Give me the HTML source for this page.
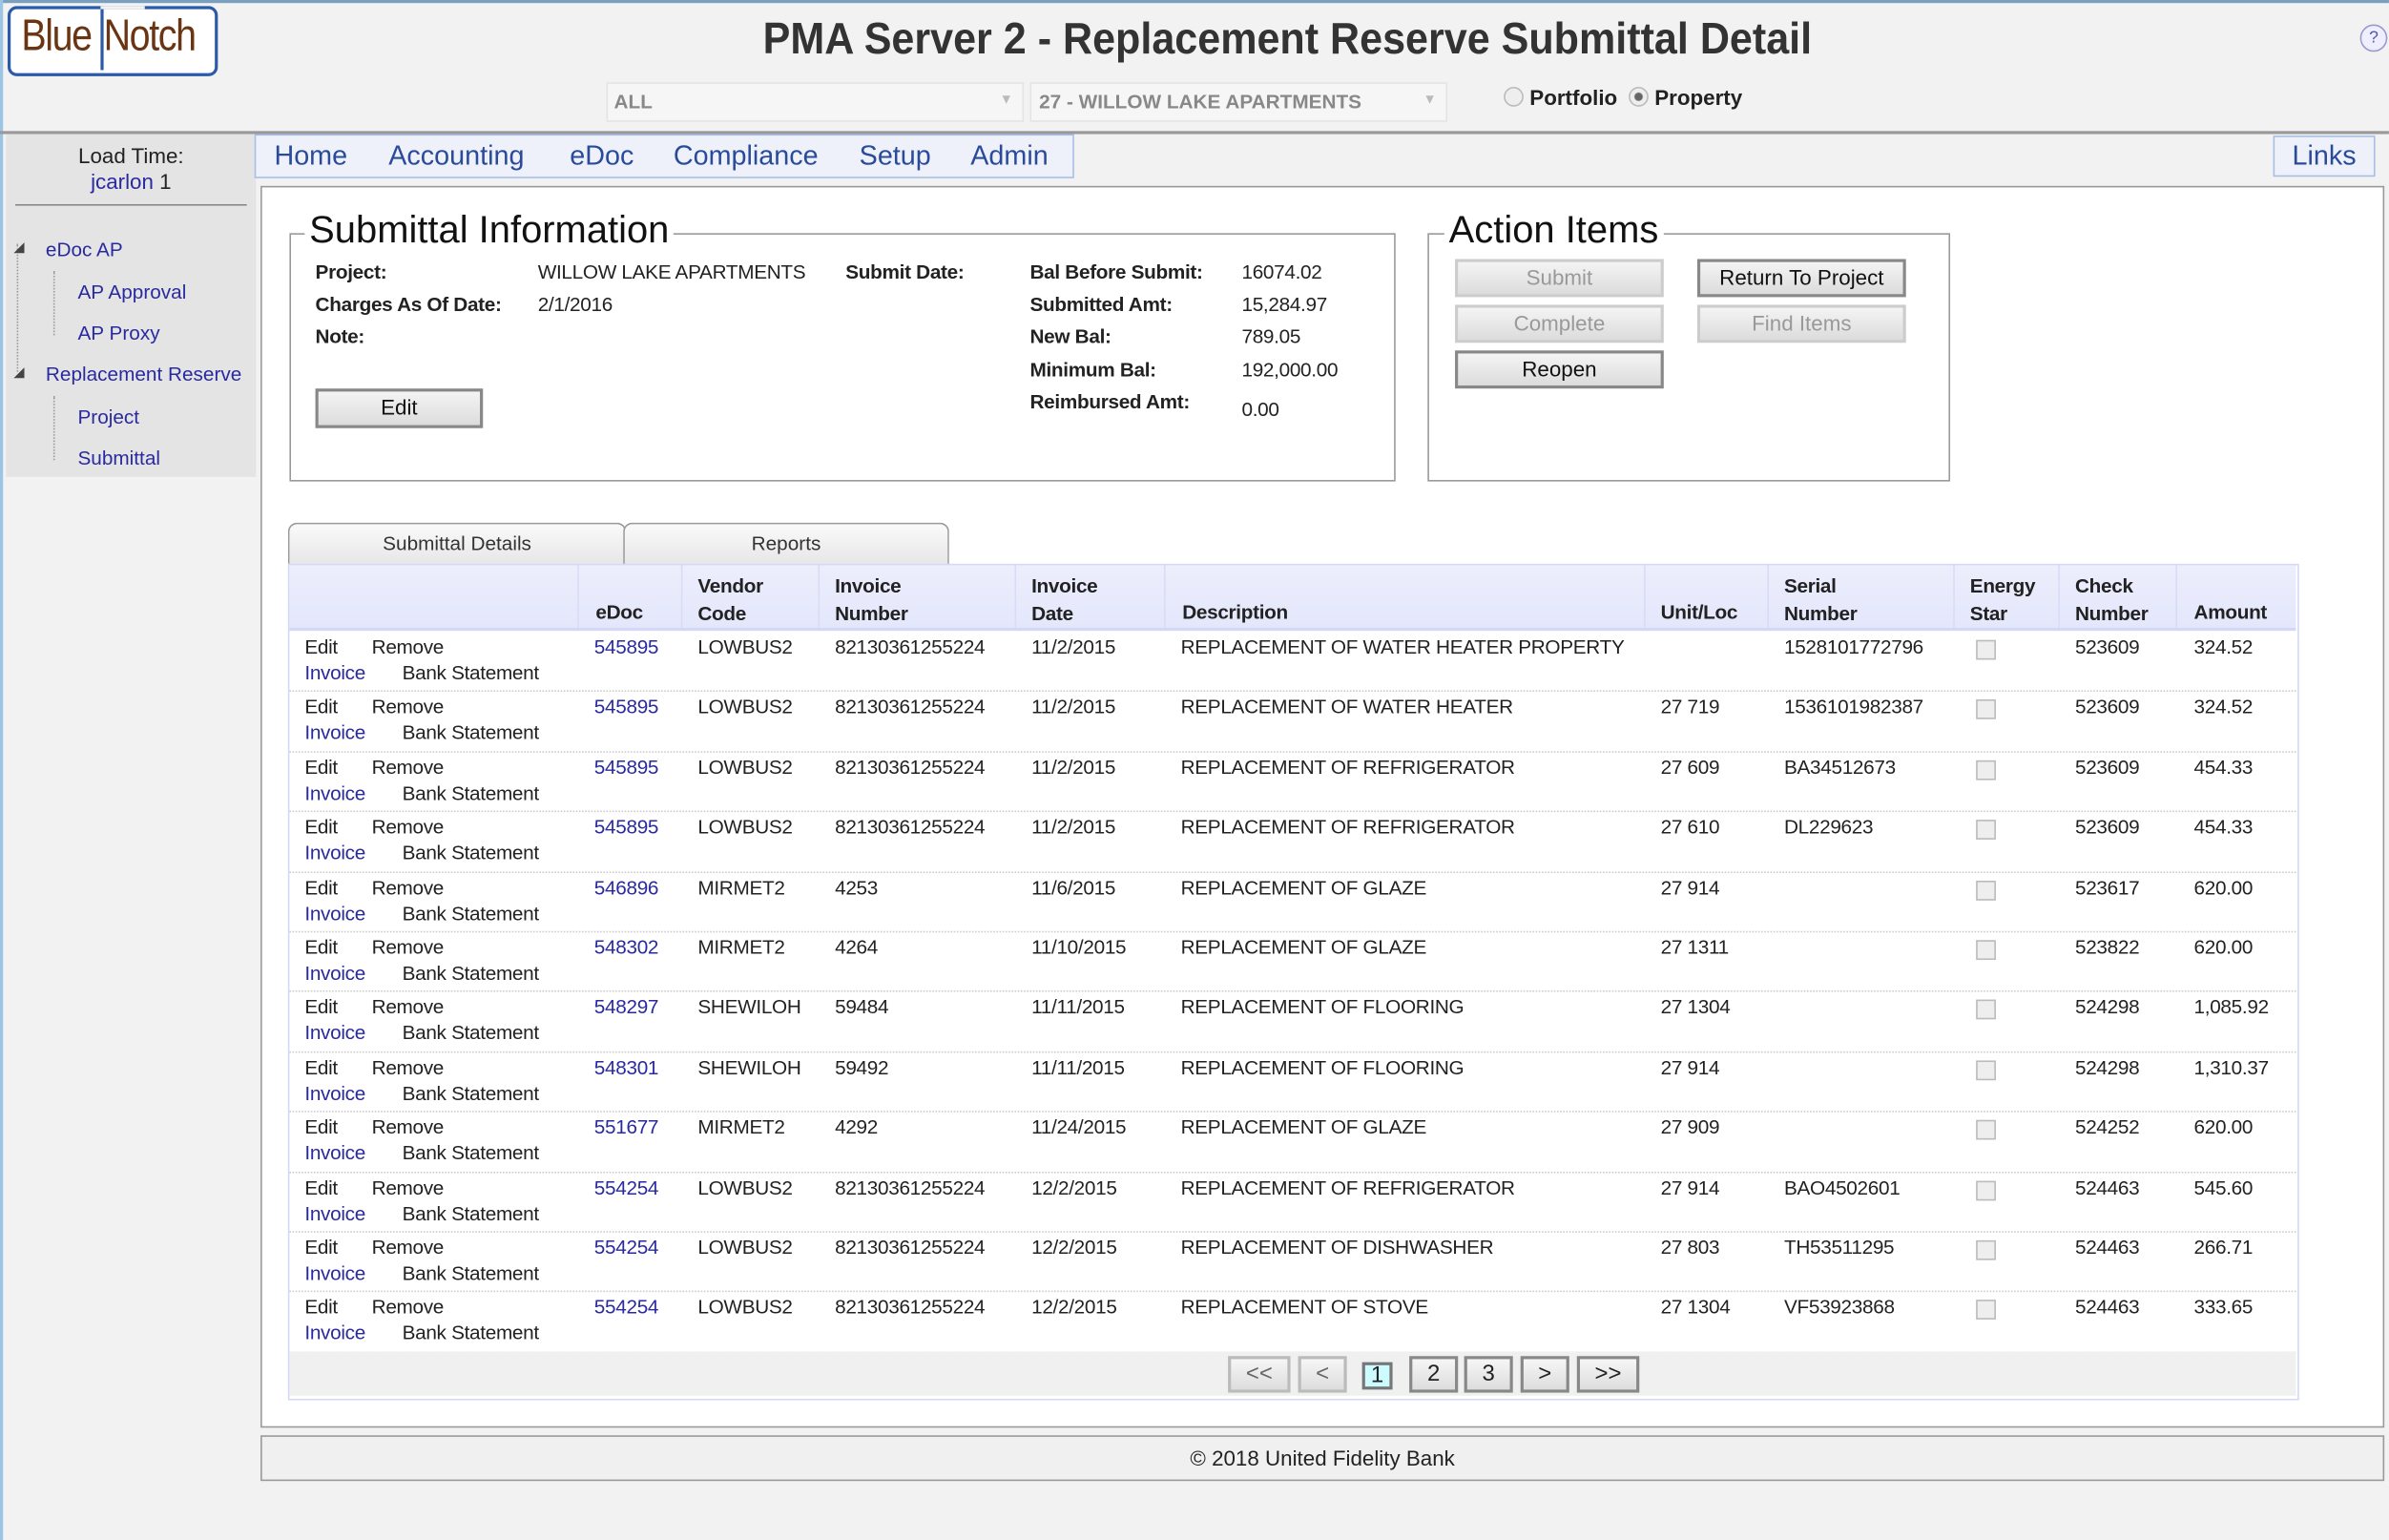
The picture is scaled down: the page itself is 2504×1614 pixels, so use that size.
<!DOCTYPE html>
<html><head><meta charset="utf-8"><style>
html,body{margin:0;padding:0;width:2504px;height:1614px;overflow:hidden;background:#fff}
#w{position:absolute;left:0;top:0;width:1568px;height:1011px;transform:scale(1.5969);transform-origin:0 0;font-family:"Liberation Sans",sans-serif;color:#222;background:#f2f2f2}
.a{position:absolute;white-space:nowrap}
.t{font-size:13px;letter-spacing:-0.2px}
.lk{color:#2a2aa0}
.btn{position:absolute;border:2px solid #888;background:linear-gradient(#f4f4f4,#dcdcdc);font-size:14px;text-align:center;box-sizing:border-box;line-height:20px;color:#111}
.dis{border-color:#ccc;color:#999}
.row{position:absolute;left:190px;width:1317px;height:39.4px;border-bottom:1px dotted #ccc}
.row span{position:absolute;font-size:13px;white-space:nowrap;letter-spacing:-0.2px}
.cb{position:absolute;width:11px;height:11px;border:1px solid #bbb;background:#eee}
.sep{position:absolute;top:371px;height:41px;width:1px;background:#d8dcf6}
.pg{position:absolute;top:890px;height:24px;border:2px solid #888;background:linear-gradient(#f6f6f6,#ddd);box-sizing:border-box;text-align:center;font-size:15px;line-height:20px}
</style></head><body><div id="w">
<div class="a" style="left:0;top:0;width:1568px;height:2px;background:#7aa0c0"></div>
<div class="a" style="left:0;top:0;width:2px;height:1011px;background:#9cc4e4"></div>
<!-- logo -->
<div class="a" style="left:5px;top:4px;width:134px;height:42px;border:2px solid #2a5aa8;border-radius:6px;background:#fff"></div>
<div class="a" style="left:14px;top:8px;font-size:29px;color:#6b3412;letter-spacing:-1px;transform:scaleX(0.85);transform-origin:0 0">Blue</div>
<div class="a" style="left:66px;top:4px;width:2px;height:42px;background:#2a5aa8"></div>
<div class="a" style="left:66px;top:4px;width:29px;height:2px;background:#f2f2f2"></div>
<div class="a" style="left:68px;top:8px;font-size:29px;color:#6b3412;letter-spacing:-1px;transform:scaleX(0.85);transform-origin:0 0">Notch</div>
<div class="a" style="left:0;top:10px;width:1690px;text-align:center;font-size:29px;font-weight:bold;color:#333;transform:scaleX(0.93);transform-origin:845px 0">PMA Server 2 - Replacement Reserve Submittal Detail</div>
<div class="a" style="left:1549px;top:16px;width:16px;height:16px;border-radius:50%;border:1px solid #99c;color:#55a;font-size:11px;text-align:center;line-height:16px;background:#eef">?</div>
<!-- selects -->
<div class="a" style="left:398px;top:54px;width:272px;height:24px;border:1px solid #e4e4e4;background:#f6f6f6"></div>
<div class="a" style="left:403px;top:59px;font-size:13px;font-weight:bold;color:#888">ALL</div>
<div class="a" style="left:656px;top:60px;font-size:9px;color:#bbb">▼</div>
<div class="a" style="left:676px;top:54px;width:272px;height:24px;border:1px solid #e4e4e4;background:#f6f6f6"></div>
<div class="a" style="left:682px;top:59px;font-size:13px;font-weight:bold;color:#888">27 - WILLOW LAKE APARTMENTS</div>
<div class="a" style="left:934px;top:60px;font-size:9px;color:#bbb">▼</div>
<div class="a" style="left:987px;top:57px;width:11px;height:11px;border-radius:50%;border:1px solid #bbb;background:#eee"></div>
<div class="a" style="left:1004px;top:56px;font-size:14px;font-weight:bold;color:#222">Portfolio</div>
<div class="a" style="left:1069px;top:57px;width:11px;height:11px;border-radius:50%;border:1px solid #bbb;background:radial-gradient(#666 30%,#eee 40%)"></div>
<div class="a" style="left:1086px;top:56px;font-size:14px;font-weight:bold;color:#222">Property</div>
<div class="a" style="left:0;top:86px;width:1568px;height:2px;background:#999"></div>
<!-- sidebar -->
<div class="a" style="left:4px;top:88px;width:164px;height:225px;background:#e4e4e4"></div>
<div class="a" style="left:4px;top:94px;width:164px;text-align:center;font-size:14px;color:#222">Load Time:</div>
<div class="a" style="left:4px;top:111px;width:164px;text-align:center;font-size:14px"><span class="lk">jcarlon</span> 1</div>
<div class="a" style="left:10px;top:134px;width:152px;height:1px;background:#888"></div>
<div class="a" style="left:11px;top:160px;width:1px;height:84px;border-left:1px dotted #999"></div>
<div class="a" style="left:35px;top:178px;width:1px;height:42px;border-left:1px dotted #999"></div>
<div class="a" style="left:35px;top:260px;width:1px;height:42px;border-left:1px dotted #999"></div>
<div class="a" style="left:9px;top:157px;font-size:9px;color:#444">◢</div>
<div class="a" style="left:9px;top:239px;font-size:9px;color:#444">◢</div>
<div class="a lk" style="left:30px;top:156px;font-size:13px">eDoc AP</div>
<div class="a lk" style="left:51px;top:184px;font-size:13px">AP Approval</div>
<div class="a lk" style="left:51px;top:211px;font-size:13px">AP Proxy</div>
<div class="a lk" style="left:30px;top:238px;font-size:13px">Replacement Reserve</div>
<div class="a lk" style="left:51px;top:266px;font-size:13px">Project</div>
<div class="a lk" style="left:51px;top:293px;font-size:13px">Submittal</div>
<!-- nav -->
<div class="a" style="left:167px;top:88px;width:536px;height:27px;background:#eef1fa;border:1px solid #a8bfe4"></div>
<div class="a" style="left:180px;top:92px;font-size:18px;color:#2a4a9a;word-spacing:0">Home</div>
<div class="a" style="left:255px;top:92px;font-size:18px;color:#2a4a9a">Accounting</div>
<div class="a" style="left:374px;top:92px;font-size:18px;color:#2a4a9a">eDoc</div>
<div class="a" style="left:442px;top:92px;font-size:18px;color:#2a4a9a">Compliance</div>
<div class="a" style="left:564px;top:92px;font-size:18px;color:#2a4a9a">Setup</div>
<div class="a" style="left:637px;top:92px;font-size:18px;color:#2a4a9a">Admin</div>
<div class="a" style="left:1492px;top:89px;width:65px;height:25px;background:#eef1fa;border:1px solid #a8bfe4;text-align:center;font-size:18px;color:#2a4a9a;line-height:25px">Links</div>
<!-- main -->
<div class="a" style="left:171px;top:122px;width:1392px;height:813px;background:#fff;border:1px solid #999"></div>
<!-- submittal info -->
<div class="a" style="left:190px;top:153px;width:724px;height:161px;border:1px solid #999"></div>
<div class="a" style="left:200px;top:137px;font-size:25px;background:#fff;padding:0 3px;color:#111">Submittal Information</div>
<div class="a t" style="left:207px;top:171px;font-weight:bold">Project:</div>
<div class="a t" style="left:207px;top:192px;font-weight:bold">Charges As Of Date:</div>
<div class="a t" style="left:207px;top:213px;font-weight:bold">Note:</div>
<div class="a t" style="left:353px;top:171px">WILLOW LAKE APARTMENTS</div>
<div class="a t" style="left:353px;top:192px">2/1/2016</div>
<div class="a t" style="left:555px;top:171px;font-weight:bold">Submit Date:</div>
<div class="a t" style="left:676px;top:171px;font-weight:bold">Bal Before Submit:</div>
<div class="a t" style="left:676px;top:192px;font-weight:bold">Submitted Amt:</div>
<div class="a t" style="left:676px;top:213px;font-weight:bold">New Bal:</div>
<div class="a t" style="left:676px;top:235px;font-weight:bold">Minimum Bal:</div>
<div class="a t" style="left:676px;top:256px;font-weight:bold">Reimbursed Amt:</div>
<div class="a t" style="left:815px;top:171px">16074.02</div>
<div class="a t" style="left:815px;top:192px">15,284.97</div>
<div class="a t" style="left:815px;top:213px">789.05</div>
<div class="a t" style="left:815px;top:235px">192,000.00</div>
<div class="a t" style="left:815px;top:261px">0.00</div>
<div class="btn" style="left:207px;top:255px;width:110px;height:26px">Edit</div>
<!-- action items -->
<div class="a" style="left:937px;top:153px;width:341px;height:161px;border:1px solid #999"></div>
<div class="a" style="left:948px;top:137px;font-size:25px;background:#fff;padding:0 3px;color:#111">Action Items</div>
<div class="btn dis" style="left:955px;top:170px;width:137px;height:25px">Submit</div>
<div class="btn dis" style="left:955px;top:200px;width:137px;height:25px">Complete</div>
<div class="btn" style="left:955px;top:230px;width:137px;height:25px">Reopen</div>
<div class="btn" style="left:1114px;top:170px;width:137px;height:25px">Return To Project</div>
<div class="btn dis" style="left:1114px;top:200px;width:137px;height:25px">Find Items</div>
<!-- tabs -->
<div class="a" style="left:189px;top:343px;width:220px;height:27px;border:1px solid #999;border-bottom:none;border-radius:6px 6px 0 0;background:linear-gradient(#fafafa,#e6e6e6);text-align:center;font-size:13px;line-height:26px;color:#333">Submittal Details</div>
<div class="a" style="left:409px;top:343px;width:212px;height:27px;border:1px solid #999;border-bottom:none;border-radius:6px 6px 0 0;background:linear-gradient(#fafafa,#e6e6e6);text-align:center;font-size:13px;line-height:26px;color:#333">Reports</div>
<!-- table -->
<div class="a" style="left:189px;top:370px;width:1318px;height:547px;border:1px solid #d4d8f6;background:#fff"></div>
<div class="a" style="left:190px;top:371px;width:1317px;height:41px;background:linear-gradient(#eceefc,#e4e7fb);border-bottom:2px solid #d4d8f6"></div>
<div class="sep" style="left:379px"></div><div class="sep" style="left:447px"></div><div class="sep" style="left:537px"></div><div class="sep" style="left:666px"></div><div class="sep" style="left:764px"></div><div class="sep" style="left:1079px"></div><div class="sep" style="left:1160px"></div><div class="sep" style="left:1282px"></div><div class="sep" style="left:1351px"></div><div class="sep" style="left:1428px"></div>
<div class="a t" style="left:391px;top:394px;font-weight:bold">eDoc</div>
<div class="a t" style="left:458px;top:376px;font-weight:bold;line-height:18px">Vendor<br>Code</div>
<div class="a t" style="left:548px;top:376px;font-weight:bold;line-height:18px">Invoice<br>Number</div>
<div class="a t" style="left:677px;top:376px;font-weight:bold;line-height:18px">Invoice<br>Date</div>
<div class="a t" style="left:776px;top:394px;font-weight:bold">Description</div>
<div class="a t" style="left:1090px;top:394px;font-weight:bold">Unit/Loc</div>
<div class="a t" style="left:1171px;top:376px;font-weight:bold;line-height:18px">Serial<br>Number</div>
<div class="a t" style="left:1293px;top:376px;font-weight:bold;line-height:18px">Energy<br>Star</div>
<div class="a t" style="left:1362px;top:376px;font-weight:bold;line-height:18px">Check<br>Number</div>
<div class="a t" style="left:1440px;top:394px;font-weight:bold">Amount</div>

<div class="row" style="top:414px"><span style="left:10px;top:3px">Edit</span><span style="left:54px;top:3px">Remove</span><span class="lk" style="left:10px;top:20px">Invoice</span><span style="left:74px;top:20px">Bank Statement</span><span class="lk" style="left:200px;top:3px">545895</span><span style="left:268px;top:3px">LOWBUS2</span><span style="left:358px;top:3px">82130361255224</span><span style="left:487px;top:3px">11/2/2015</span><span style="left:585px;top:3px">REPLACEMENT OF WATER HEATER PROPERTY</span><span style="left:981px;top:3px">1528101772796</span><div class="cb" style="left:1107px;top:6px"></div><span style="left:1172px;top:3px">523609</span><span style="left:1250px;top:3px">324.52</span></div>
<div class="row" style="top:453.4px"><span style="left:10px;top:3px">Edit</span><span style="left:54px;top:3px">Remove</span><span class="lk" style="left:10px;top:20px">Invoice</span><span style="left:74px;top:20px">Bank Statement</span><span class="lk" style="left:200px;top:3px">545895</span><span style="left:268px;top:3px">LOWBUS2</span><span style="left:358px;top:3px">82130361255224</span><span style="left:487px;top:3px">11/2/2015</span><span style="left:585px;top:3px">REPLACEMENT OF WATER HEATER</span><span style="left:900px;top:3px">27 719</span><span style="left:981px;top:3px">1536101982387</span><div class="cb" style="left:1107px;top:6px"></div><span style="left:1172px;top:3px">523609</span><span style="left:1250px;top:3px">324.52</span></div>
<div class="row" style="top:492.8px"><span style="left:10px;top:3px">Edit</span><span style="left:54px;top:3px">Remove</span><span class="lk" style="left:10px;top:20px">Invoice</span><span style="left:74px;top:20px">Bank Statement</span><span class="lk" style="left:200px;top:3px">545895</span><span style="left:268px;top:3px">LOWBUS2</span><span style="left:358px;top:3px">82130361255224</span><span style="left:487px;top:3px">11/2/2015</span><span style="left:585px;top:3px">REPLACEMENT OF REFRIGERATOR</span><span style="left:900px;top:3px">27 609</span><span style="left:981px;top:3px">BA34512673</span><div class="cb" style="left:1107px;top:6px"></div><span style="left:1172px;top:3px">523609</span><span style="left:1250px;top:3px">454.33</span></div>
<div class="row" style="top:532.2px"><span style="left:10px;top:3px">Edit</span><span style="left:54px;top:3px">Remove</span><span class="lk" style="left:10px;top:20px">Invoice</span><span style="left:74px;top:20px">Bank Statement</span><span class="lk" style="left:200px;top:3px">545895</span><span style="left:268px;top:3px">LOWBUS2</span><span style="left:358px;top:3px">82130361255224</span><span style="left:487px;top:3px">11/2/2015</span><span style="left:585px;top:3px">REPLACEMENT OF REFRIGERATOR</span><span style="left:900px;top:3px">27 610</span><span style="left:981px;top:3px">DL229623</span><div class="cb" style="left:1107px;top:6px"></div><span style="left:1172px;top:3px">523609</span><span style="left:1250px;top:3px">454.33</span></div>
<div class="row" style="top:571.6px"><span style="left:10px;top:3px">Edit</span><span style="left:54px;top:3px">Remove</span><span class="lk" style="left:10px;top:20px">Invoice</span><span style="left:74px;top:20px">Bank Statement</span><span class="lk" style="left:200px;top:3px">546896</span><span style="left:268px;top:3px">MIRMET2</span><span style="left:358px;top:3px">4253</span><span style="left:487px;top:3px">11/6/2015</span><span style="left:585px;top:3px">REPLACEMENT OF GLAZE</span><span style="left:900px;top:3px">27 914</span><div class="cb" style="left:1107px;top:6px"></div><span style="left:1172px;top:3px">523617</span><span style="left:1250px;top:3px">620.00</span></div>
<div class="row" style="top:611px"><span style="left:10px;top:3px">Edit</span><span style="left:54px;top:3px">Remove</span><span class="lk" style="left:10px;top:20px">Invoice</span><span style="left:74px;top:20px">Bank Statement</span><span class="lk" style="left:200px;top:3px">548302</span><span style="left:268px;top:3px">MIRMET2</span><span style="left:358px;top:3px">4264</span><span style="left:487px;top:3px">11/10/2015</span><span style="left:585px;top:3px">REPLACEMENT OF GLAZE</span><span style="left:900px;top:3px">27 1311</span><div class="cb" style="left:1107px;top:6px"></div><span style="left:1172px;top:3px">523822</span><span style="left:1250px;top:3px">620.00</span></div>
<div class="row" style="top:650.4px"><span style="left:10px;top:3px">Edit</span><span style="left:54px;top:3px">Remove</span><span class="lk" style="left:10px;top:20px">Invoice</span><span style="left:74px;top:20px">Bank Statement</span><span class="lk" style="left:200px;top:3px">548297</span><span style="left:268px;top:3px">SHEWILOH</span><span style="left:358px;top:3px">59484</span><span style="left:487px;top:3px">11/11/2015</span><span style="left:585px;top:3px">REPLACEMENT OF FLOORING</span><span style="left:900px;top:3px">27 1304</span><div class="cb" style="left:1107px;top:6px"></div><span style="left:1172px;top:3px">524298</span><span style="left:1250px;top:3px">1,085.92</span></div>
<div class="row" style="top:689.8px"><span style="left:10px;top:3px">Edit</span><span style="left:54px;top:3px">Remove</span><span class="lk" style="left:10px;top:20px">Invoice</span><span style="left:74px;top:20px">Bank Statement</span><span class="lk" style="left:200px;top:3px">548301</span><span style="left:268px;top:3px">SHEWILOH</span><span style="left:358px;top:3px">59492</span><span style="left:487px;top:3px">11/11/2015</span><span style="left:585px;top:3px">REPLACEMENT OF FLOORING</span><span style="left:900px;top:3px">27 914</span><div class="cb" style="left:1107px;top:6px"></div><span style="left:1172px;top:3px">524298</span><span style="left:1250px;top:3px">1,310.37</span></div>
<div class="row" style="top:729.2px"><span style="left:10px;top:3px">Edit</span><span style="left:54px;top:3px">Remove</span><span class="lk" style="left:10px;top:20px">Invoice</span><span style="left:74px;top:20px">Bank Statement</span><span class="lk" style="left:200px;top:3px">551677</span><span style="left:268px;top:3px">MIRMET2</span><span style="left:358px;top:3px">4292</span><span style="left:487px;top:3px">11/24/2015</span><span style="left:585px;top:3px">REPLACEMENT OF GLAZE</span><span style="left:900px;top:3px">27 909</span><div class="cb" style="left:1107px;top:6px"></div><span style="left:1172px;top:3px">524252</span><span style="left:1250px;top:3px">620.00</span></div>
<div class="row" style="top:768.6px"><span style="left:10px;top:3px">Edit</span><span style="left:54px;top:3px">Remove</span><span class="lk" style="left:10px;top:20px">Invoice</span><span style="left:74px;top:20px">Bank Statement</span><span class="lk" style="left:200px;top:3px">554254</span><span style="left:268px;top:3px">LOWBUS2</span><span style="left:358px;top:3px">82130361255224</span><span style="left:487px;top:3px">12/2/2015</span><span style="left:585px;top:3px">REPLACEMENT OF REFRIGERATOR</span><span style="left:900px;top:3px">27 914</span><span style="left:981px;top:3px">BAO4502601</span><div class="cb" style="left:1107px;top:6px"></div><span style="left:1172px;top:3px">524463</span><span style="left:1250px;top:3px">545.60</span></div>
<div class="row" style="top:808px"><span style="left:10px;top:3px">Edit</span><span style="left:54px;top:3px">Remove</span><span class="lk" style="left:10px;top:20px">Invoice</span><span style="left:74px;top:20px">Bank Statement</span><span class="lk" style="left:200px;top:3px">554254</span><span style="left:268px;top:3px">LOWBUS2</span><span style="left:358px;top:3px">82130361255224</span><span style="left:487px;top:3px">12/2/2015</span><span style="left:585px;top:3px">REPLACEMENT OF DISHWASHER</span><span style="left:900px;top:3px">27 803</span><span style="left:981px;top:3px">TH53511295</span><div class="cb" style="left:1107px;top:6px"></div><span style="left:1172px;top:3px">524463</span><span style="left:1250px;top:3px">266.71</span></div>
<div class="row" style="top:847.4px"><span style="left:10px;top:3px">Edit</span><span style="left:54px;top:3px">Remove</span><span class="lk" style="left:10px;top:20px">Invoice</span><span style="left:74px;top:20px">Bank Statement</span><span class="lk" style="left:200px;top:3px">554254</span><span style="left:268px;top:3px">LOWBUS2</span><span style="left:358px;top:3px">82130361255224</span><span style="left:487px;top:3px">12/2/2015</span><span style="left:585px;top:3px">REPLACEMENT OF STOVE</span><span style="left:900px;top:3px">27 1304</span><span style="left:981px;top:3px">VF53923868</span><div class="cb" style="left:1107px;top:6px"></div><span style="left:1172px;top:3px">524463</span><span style="left:1250px;top:3px">333.65</span></div>
<!-- pager -->
<div class="a" style="left:190px;top:887px;width:1317px;height:29px;background:#f0f0f0"></div>
<div class="pg" style="left:806px;width:41px;border-color:#bbb;color:#666">&lt;&lt;</div>
<div class="pg" style="left:852px;width:32px;border-color:#bbb;color:#666">&lt;</div>
<div class="pg" style="left:894px;top:894px;width:20px;height:18px;background:#ccfcff;border-color:#777;line-height:14px">1</div>
<div class="pg" style="left:925px;width:32px">2</div>
<div class="pg" style="left:961px;width:32px">3</div>
<div class="pg" style="left:998px;width:32px">&gt;</div>
<div class="pg" style="left:1035px;width:41px">&gt;&gt;</div>
<!-- footer -->
<div class="a" style="left:171px;top:942px;width:1392px;height:28px;background:#f0f0f0;border:1px solid #999;text-align:center;font-size:14px;line-height:28px;color:#222">© 2018 United Fidelity Bank</div>
</div></body></html>
